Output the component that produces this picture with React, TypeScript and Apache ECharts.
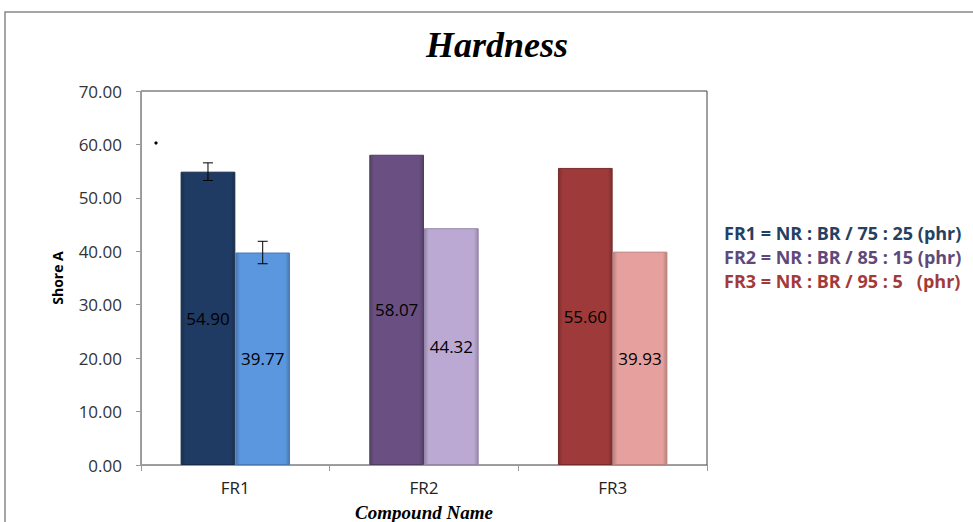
import React, { useEffect, useRef } from "react";
import * as echarts from "echarts";

const categories = ["FR1", "FR2", "FR3"];
const firstValues = [54.9, 58.07, 55.6];
const secondValues = [39.77, 44.32, 39.93];
const firstErrors = [1.65, 0, 0];
const secondErrors = [2.1, 0, 0];
const firstColors = ["#1F3B63", "#6A5082", "#9E3A3A"];
const secondColors = ["#5B97DE", "#BCA9D3", "#E6A09E"];
const yTicks = [0, 10, 20, 30, 40, 50, 60, 70];
const legendLines = [
  "FR1 = NR : BR / 75 : 25 (phr)",
  "FR2 = NR : BR / 85 : 15 (phr)",
  "FR3 = NR : BR / 95 : 5   (phr)",
];
const legendColors = ["#254061", "#60497A", "#A33A3A"];

const CAT_GAP = 0.42;

function shade(hex: string, f: number) {
  const n = parseInt(hex.slice(1), 16);
  const r = Math.round(((n >> 16) & 255) * f);
  const g = Math.round(((n >> 8) & 255) * f);
  const b = Math.round((n & 255) * f);
  return `rgb(${Math.min(255, r)},${Math.min(255, g)},${Math.min(255, b)})`;
}

function grad(c: string) {
  return new echarts.graphic.LinearGradient(0, 0, 1, 0, [
    { offset: 0, color: shade(c, 0.8) },
    { offset: 0.08, color: c },
    { offset: 0.92, color: c },
    { offset: 1, color: shade(c, 0.8) },
  ]);
}

export default function App() {
  const ref = useRef<HTMLDivElement>(null);
  useEffect(() => {
    document.body.style.margin = "0";
    const chart = echarts.init(ref.current!, null, { renderer: "svg" });
    const errData: any[] = [];
    categories.forEach((_, i) => {
      if (firstErrors[i] > 0) errData.push([i, firstValues[i], firstErrors[i], -1]);
      if (secondErrors[i] > 0) errData.push([i, secondValues[i], secondErrors[i], 1]);
    });
    const labelStyle = {
      show: true,
      position: "inside" as const,
      color: "#000",
      fontSize: 17,
      fontFamily: "Open Sans",
      formatter: (p: any) => Number(p.value).toFixed(2),
    };
    chart.setOption({
      animation: false,
      backgroundColor: "#fff",
      title: {
        text: "Hardness",
        left: 492,
        top: 22,
        textAlign: "center",
        textStyle: {
          fontFamily: "Liberation Serif",
          fontStyle: "italic",
          fontWeight: "bold",
          fontSize: 36,
          color: "#000",
        },
      },
      grid: {
        left: 141,
        top: 91,
        width: 566,
        height: 374,
        show: true,
        borderColor: "#404040",
        borderWidth: 1,
        containLabel: false,
        outerBoundsMode: "none",
      },
      xAxis: {
        type: "category",
        data: categories,
        name: "Compound Name",
        nameLocation: "middle",
        nameGap: 38,
        nameTextStyle: {
          fontFamily: "Liberation Serif",
          fontStyle: "italic",
          fontWeight: "bold",
          fontSize: 19,
          color: "#000",
        },
        axisLine: { lineStyle: { color: "#999" } },
        axisTick: { show: true, length: 6, lineStyle: { color: "#999" } },
        axisLabel: { fontSize: 17, fontFamily: "Open Sans", color: "#222", margin: 14 },
      },
      yAxis: {
        type: "value",
        min: 0,
        max: 70,
        interval: 10,
        name: "Shore A",
        nameLocation: "middle",
        nameGap: 77,
        nameRotate: 90,
        nameTextStyle: { fontFamily: "Open Sans", fontWeight: "bold", fontSize: 14, color: "#000" },
        splitLine: { show: false },
        axisLine: { show: true, lineStyle: { color: "#999" } },
        axisTick: { show: true, length: 5, lineStyle: { color: "#999" } },
        axisLabel: {
          fontSize: 17,
          fontFamily: "Open Sans",
          color: "#333",
          margin: 19,
          formatter: (v: number) => (yTicks.includes(v) ? v.toFixed(2) : ""),
        },
      },
      series: [
        {
          type: "bar",
          barGap: "0%",
          barCategoryGap: CAT_GAP * 100 + "%",
          data: firstValues.map((v, i) => ({
            value: v,
            itemStyle: { color: grad(firstColors[i]), borderColor: shade(firstColors[i], 0.75), borderWidth: 1 },
          })),
          label: labelStyle,
        },
        {
          type: "bar",
          barGap: "0%",
          barCategoryGap: CAT_GAP * 100 + "%",
          data: secondValues.map((v, i) => ({
            value: v,
            itemStyle: { color: grad(secondColors[i]), borderColor: shade(secondColors[i], 0.8), borderWidth: 1 },
          })),
          label: labelStyle,
        },
        {
          type: "custom",
          z: 10,
          data: errData,
          renderItem: (params: any, api: any) => {
            const idx = api.value(0);
            const val = api.value(1);
            const err = api.value(2);
            const side = api.value(3);
            const band = api.size([1, 0])[0];
            const bw = (band * (1 - CAT_GAP)) / 2;
            const c = api.coord([idx, val]);
            const x = c[0] + (side * bw) / 2;
            const top = api.coord([idx, val + err])[1];
            const bot = api.coord([idx, val - err])[1];
            const cap = 5;
            const st = { stroke: "#000", lineWidth: 1 };
            return {
              type: "group",
              children: [
                { type: "line", shape: { x1: x, y1: top, x2: x, y2: bot }, style: st },
                { type: "line", shape: { x1: x - cap, y1: top, x2: x + cap, y2: top }, style: st },
                { type: "line", shape: { x1: x - cap, y1: bot, x2: x + cap, y2: bot }, style: st },
              ],
            };
          },
        },
      ],
      graphic: [
        {
          type: "rect",
          shape: { x: 5, y: 12, width: 1000, height: 540 },
          style: { fill: "none", stroke: "#888", lineWidth: 1.5 },
          silent: true,
        },
        { type: "circle", shape: { cx: 156, cy: 143, r: 1.6 }, style: { fill: "#000" } },
        ...legendLines.map((t, i) => ({
          type: "text",
          x: 724,
          y: 233 + i * 24,
          style: {
            text: t,
            fill: legendColors[i],
            font: "bold 18px 'Open Sans'",
            textVerticalAlign: "middle",
          },
        })),
      ],
    });
    return () => chart.dispose();
  }, []);
  return <div ref={ref} style={{ width: 973, height: 522 }} />;
}
